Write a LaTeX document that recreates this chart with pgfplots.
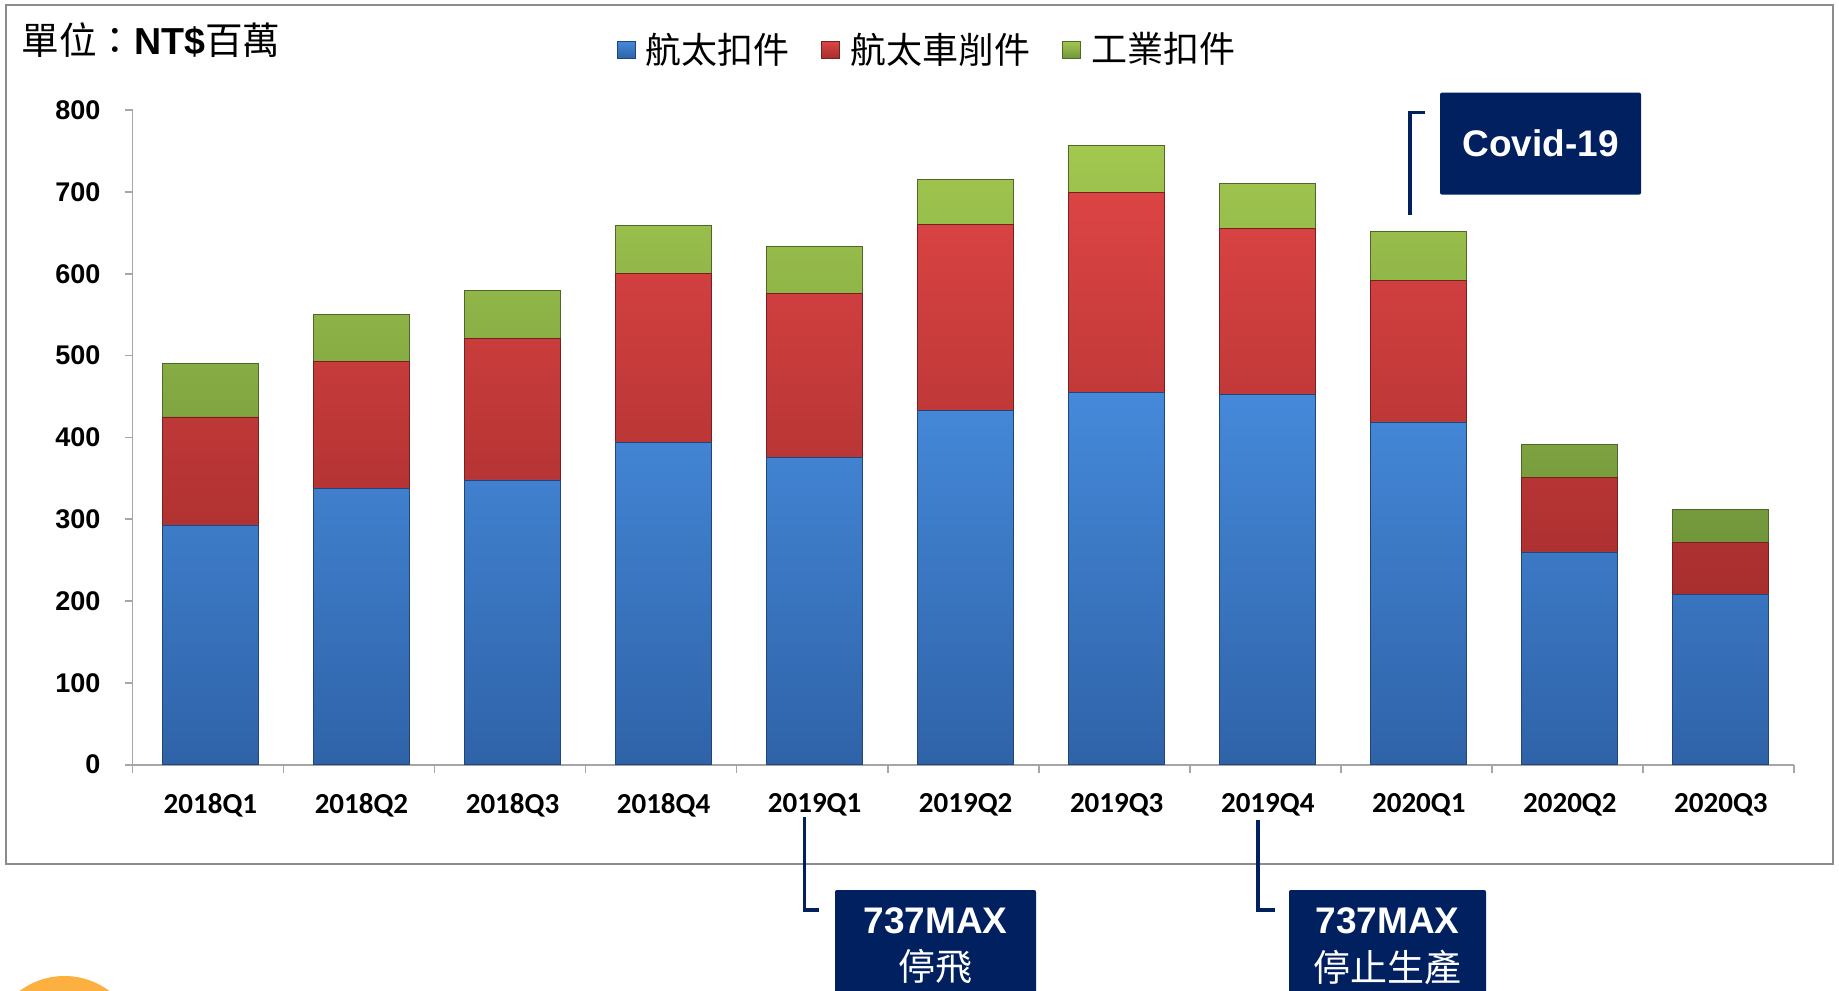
\documentclass[border=0pt]{standalone}
\usepackage{pgfplots}
\pgfplotsset{compat=1.18}
\usepackage{fontspec}
\setmainfont{Liberation Sans}
\setsansfont{Liberation Sans}
\newfontfamily\cjk{Noto Sans CJK TC}
\newfontfamily\carlito{Carlito}
\definecolor{navy}{HTML}{002060}
\definecolor{bluetop}{HTML}{4589DA}
\definecolor{bluebot}{HTML}{2F63A8}
\definecolor{redtop}{HTML}{DC4444}
\definecolor{redbot}{HTML}{A82E2E}
\definecolor{greentop}{HTML}{A2C850}
\definecolor{greenbot}{HTML}{71953A}
\definecolor{axisgray}{HTML}{A6A6A6}
\definecolor{framegray}{HTML}{8C8C8C}
\definecolor{orangec}{HTML}{FBB040}
\pgfplotstableread{
x blue red green
0 293 132 65
1 338 155 57
2 348 173 59
3 394 207 58
4 376 200 58
5 433 227 55
6 455 245 57
7 453 202 55
8 419 173 60
9 260 91 40
10 208 64 40
}\datatable
\begin{document}
\begin{tikzpicture}[x=1pt,y=1pt]
\useasboundingbox (0,0) rectangle (919.5,495);
\begin{scope}
\clip (0,0) rectangle (919.5,495);
\fill[orangec] (32.25,-30.3) circle (37.3);
\end{scope}
\draw[framegray, line width=1pt] (3,63) rectangle (916.5,492.5);
\begin{axis}[
  at={(66.25pt,112.65pt)}, anchor=south west,
  scale only axis, width=830.75pt, height=327.25pt,
  ybar stacked, bar width=48pt, bar shift=1pt,
  xmin=-0.5, xmax=10.5, ymin=0, ymax=800,
  axis x line=bottom, axis y line=left,
  axis line style={axisgray, line width=0.8pt, -},
  tick style={axisgray, line width=0.8pt},
  tick align=outside,
  xtick={0,...,10},
  xticklabels={2018Q1,2018Q2,2018Q3,2018Q4,2019Q1,2019Q2,2019Q3,2019Q4,2020Q1,2020Q2,2020Q3},
  major x tick style={draw=none},
  minor xtick={-0.5,0.5,...,10.5},
  minor tick length=4pt,
  major tick length=4pt,
  ytick={0,100,...,800},
  /pgf/number format/assume math mode=true,
  yticklabel style={font=\fontsize{13.5}{15}\selectfont\bfseries, xshift=-8.5pt},
  xticklabel style={font=\carlito\fontsize{14.5}{16}\selectfont\bfseries, yshift=-7pt, xshift=1.2pt},
  legend style={at={(0.4787,1.093)}, anchor=center, draw=none, fill=none,
    font=\cjk\fontsize{18}{20}\selectfont, legend columns=3,
    /tikz/every odd column/.append style={column sep=3pt},
    /tikz/every even column/.append style={column sep=14pt},
    legend cell align=left, inner sep=0pt},
  clip=false,
]
\addplot[draw=bluebot!70!black, line width=0.4pt, top color=bluetop, bottom color=bluebot,
  legend image code/.code={\draw[bluebot!70!black, line width=0.4pt, top color=bluetop, bottom color=bluebot] (0pt,-4.5pt) rectangle (9pt,4pt);}]
  table[x=x, y=blue] {\datatable};
\addlegendentry{航太扣件}
\addplot[draw=redbot!70!black, line width=0.4pt, top color=redtop, bottom color=redbot,
  legend image code/.code={\draw[redbot!70!black, line width=0.4pt, top color=redtop, bottom color=redbot] (0pt,-4.5pt) rectangle (9pt,4pt);}]
  table[x=x, y=red] {\datatable};
\addlegendentry{航太車削件}
\addplot[draw=greenbot!70!black, line width=0.4pt, top color=greentop, bottom color=greenbot,
  legend image code/.code={\draw[greenbot!70!black, line width=0.4pt, top color=greentop, bottom color=greenbot] (0pt,-4.5pt) rectangle (9pt,4pt);}]
  table[x=x, y=green] {\datatable};
\addlegendentry{工業扣件}
\end{axis}
% title
\node[anchor=west, inner sep=0pt] at (10.5,475) {\fontsize{18.8}{21}\selectfont{\cjk 單位：}\textbf{NT\$}{\cjk 百萬}};
% Covid box
\fill[navy, rounded corners=1pt] (720,397.65) rectangle (820.5,448.7);
\node[white, font=\fontsize{18.5}{20}\selectfont\bfseries] at (770.25,423.2) {Covid-19};
\draw[navy, line width=1.75pt] (712.5,438.7) -- (705,438.7) -- (705,387.7);
% 737MAX box 1
\fill[navy, rounded corners=1pt] (417.5,-5) rectangle (518,50);
\node[white, font=\fontsize{18.5}{20}\selectfont\bfseries] at (467.75,34.7) {737MAX};
\node[white, font=\cjk\fontsize{18.5}{20}\selectfont] at (467.75,11.5) {停飛};
\draw[navy, line width=1.75pt] (402.25,86.3) -- (402.25,40) -- (409.3,40);
% 737MAX box 2
\fill[navy, rounded corners=1pt] (644.5,-5) rectangle (743,50);
\node[white, font=\fontsize{18.5}{20}\selectfont\bfseries] at (693.75,34.7) {737MAX};
\node[white, font=\cjk\fontsize{18.5}{20}\selectfont] at (693.75,11.5) {停止生產};
\draw[navy, line width=1.75pt] (629,85) -- (629,40) -- (637.5,40);
\end{tikzpicture}
\end{document}
